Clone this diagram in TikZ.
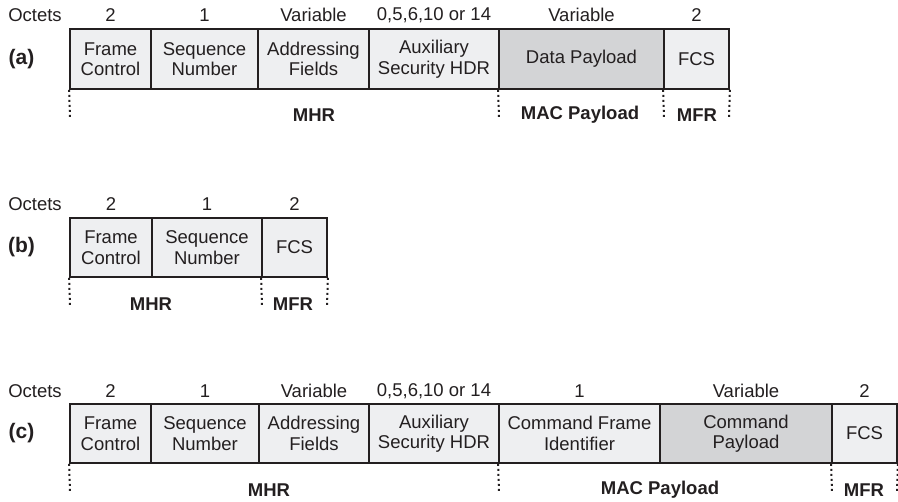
\documentclass[tikz,border=0pt]{standalone}
\usepackage{fontspec}
\setmainfont{Liberation Sans}
\definecolor{cellfill}{HTML}{EEEFF1}
\definecolor{payfill}{HTML}{D3D4D6}
\definecolor{ink}{HTML}{231F20}
\begin{document}
\begin{tikzpicture}[x=1pt,y=-1pt,
  txt/.style={font=\fontsize{18.5}{20.5}\selectfont, text=ink, inner sep=0pt},
  cell/.style={txt, draw=ink, line width=1.8pt, fill=cellfill, minimum height=60pt, align=center},
  pay/.style={cell, fill=payfill},
  octet/.style={txt},
  part/.style={txt, font=\fontsize{18.5}{20.5}\selectfont\bfseries},
  tag/.style={txt, font=\fontsize{21}{24}\selectfont\bfseries},
  dotline/.style={draw=ink, line width=2pt, dash pattern=on 2pt off 3pt}
]
\useasboundingbox (0,0) rectangle (898,502);

% ---------- (a) ----------
\node[tag] (la) at (21.5,59) {(a)};
\node[octet] (oa) at (35,15) {Octets};
\node[cell, minimum width=81pt]  (a1) at (110.5,59) {Frame\\Control};
\node[cell, minimum width=107pt] (a2) at (204.5,59) {Sequence\\Number};
\node[cell, minimum width=111pt] (a3) at (313.5,59) {Addressing\\Fields};
\node[cell, minimum width=130pt] (a4) at (434,59) {Auxiliary\\Security HDR};
\node[pay,  minimum width=165pt] (a5) at (581.5,59) {Data Payload};
\node[cell, minimum width=65pt]  (a6) at (696.5,59) {FCS};
\node[octet] (oa1) at (110.5,15) {2};
\node[octet] (oa2) at (204.5,15) {1};
\node[octet] (oa3) at (313.5,15) {Variable};
\node[octet] (oa4) at (434,15) {0,5,6,10 or 14};
\node[octet] (oa5) at (581.5,15) {Variable};
\node[octet] (oa6) at (696.5,15) {2};
\coordinate (da0) at (70,118);
\coordinate (da1) at (499,118);
\coordinate (da2) at (664,118);
\coordinate (da3) at (729,118);
\draw[dotline] (a1.south west) -- (da0);
\draw[dotline] (a5.south west) -- (da1);
\draw[dotline] (a6.south west) -- (da2);
\draw[dotline] (a6.south east) -- (da3);
\node[part] (ma) at (314,115) {MHR};
\node[part] (pa) at (580,115) {MAC Payload};
\node[part] (fa) at (697,115) {MFR};

% ---------- (b) ----------
\node[tag] (lb) at (21.5,247.5) {(b)};
\node[octet] (ob) at (35,204) {Octets};
\node[cell, minimum width=82pt,  minimum height=59pt] (b1) at (111,247.5) {Frame\\Control};
\node[cell, minimum width=110pt, minimum height=59pt] (b2) at (207,247.5) {Sequence\\Number};
\node[cell, minimum width=65pt,  minimum height=59pt] (b3) at (294.5,247.5) {FCS};
\node[octet] (ob1) at (111,204) {2};
\node[octet] (ob2) at (207,204) {1};
\node[octet] (ob3) at (294.5,204) {2};
\coordinate (db0) at (70,306);
\coordinate (db1) at (262,306);
\coordinate (db2) at (327,306);
\draw[dotline] (b1.south west) -- (db0);
\draw[dotline] (b3.south west) -- (db1);
\draw[dotline] (b3.south east) -- (db2);
\node[part] (mb) at (151,304) {MHR};
\node[part] (fb) at (293,304) {MFR};

% ---------- (c) ----------
\node[tag] (lc) at (21.5,433.5) {(c)};
\node[octet] (oc) at (35,391) {Octets};
\node[cell, minimum width=81pt,  minimum height=59pt] (c1) at (110.5,433.5) {Frame\\Control};
\node[cell, minimum width=108pt, minimum height=59pt] (c2) at (205,433.5) {Sequence\\Number};
\node[cell, minimum width=110pt, minimum height=59pt] (c3) at (314,433.5) {Addressing\\Fields};
\node[cell, minimum width=130pt, minimum height=59pt] (c4) at (434,433.5) {Auxiliary\\Security HDR};
\node[cell, minimum width=161pt, minimum height=59pt] (c5) at (579.5,433.5) {Command Frame\\Identifier};
\node[pay,  minimum width=172pt, minimum height=59pt] (c6) at (746,433.5) {Command\\Payload};
\node[cell, minimum width=65pt,  minimum height=59pt] (c7) at (864.5,433.5) {FCS};
\node[octet] (oc1) at (110.5,391) {2};
\node[octet] (oc2) at (205,391) {1};
\node[octet] (oc3) at (314,391) {Variable};
\node[octet] (oc4) at (434,391) {0,5,6,10 or 14};
\node[octet] (oc5) at (579.5,391) {1};
\node[octet] (oc6) at (746,391) {Variable};
\node[octet] (oc7) at (864.5,391) {2};
\coordinate (dc0) at (70,492);
\coordinate (dc1) at (499,492);
\coordinate (dc2) at (832,492);
\coordinate (dc3) at (897,492);
\draw[dotline] (c1.south west) -- (dc0);
\draw[dotline] (c5.south west) -- (dc1);
\draw[dotline] (c7.south west) -- (dc2);
\draw[dotline] (c7.south east) -- (dc3);
\node[part] (mc) at (269,490) {MHR};
\node[part] (pc) at (660,490) {MAC Payload};
\node[part] (fc) at (864,490) {MFR};
\end{tikzpicture}
\end{document}
